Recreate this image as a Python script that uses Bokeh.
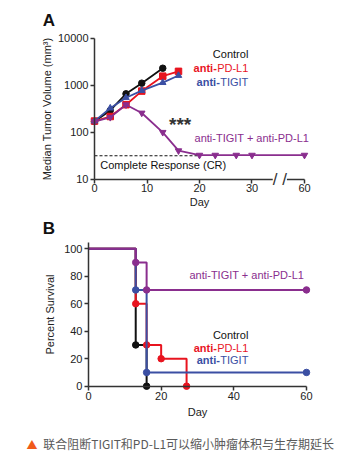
from bokeh.plotting import figure
from bokeh.layouts import column
from bokeh.models import FixedTicker, NumeralTickFormatter, Label
from bokeh.core.properties import value
from bokeh.embed import file_html
from bokeh.resources import INLINE

# ---------------- Panel A data ----------------
days_ctrl = [0, 3, 6, 9, 13]
vol_ctrl = [172, 295, 665, 1120, 2330]
days_pdl1 = [0, 3, 6, 9, 13, 16]
vol_pdl1 = [175, 219, 390, 760, 1580, 2000]
days_tigit = [0, 3, 6, 9, 13, 16]
vol_tigit = [175, 330, 550, 780, 1150, 1630]
days_combo = [0, 3, 6, 9, 13, 16, 20, 23, 27, 30, 60]
vol_combo = [170, 210, 390, 260, 101, 41, 33, 33, 33, 33, 33]
cr_level = 32
cr_days = [0, 20]
a_xticks = [0, 10, 20, 30, 60]
a_yticks = [10, 100, 1000, 10000]

# ---------------- Panel B data ----------------
km_ctrl_t = [0, 13, 16]
km_ctrl_s = [100, 30, 0]
km_pdl1_t = [0, 13, 16, 20, 27]
km_pdl1_s = [100, 60, 30, 20, 0]
km_tigit_t = [0, 13, 16, 60]
km_tigit_s = [100, 70, 10, 10]
km_combo_t = [0, 13, 16, 60]
km_combo_s = [100, 90, 70, 70]
b_xticks = [0, 20, 40, 60]
b_yticks = [0, 20, 40, 60, 80, 100]

BLACK = "#111111"
RED = "#e8141f"
BLUE = "#3b4fa3"
PURPLE = "#8a2e8e"
AXIS = "#333333"
FONT = "Liberation Sans"

BREAK_AT = 30      # broken axis: days after 30 are drawn compressed
BREAK_POS = 40     # position where day 60 is drawn


def brk(d):
    return d if d <= BREAK_AT else BREAK_POS


def style_axes(p):
    for ax in (p.xaxis[0], p.yaxis[0]):
        ax.axis_line_color = AXIS
        ax.axis_line_width = 1.5
        ax.major_tick_line_color = AXIS
        ax.major_tick_line_width = 1.5
        ax.major_tick_out = 4
        ax.major_tick_in = 0
        ax.minor_tick_line_color = None
        ax.major_label_text_font = FONT
        ax.major_label_text_font_size = "11px"
        ax.major_label_text_color = "#222222"
        ax.axis_label_text_font = FONT
        ax.axis_label_text_font_size = "11px"
        ax.axis_label_text_font_style = "normal"
        ax.axis_label_text_color = "#222222"
        ax.major_label_standoff = 2
    p.xgrid.visible = False
    p.ygrid.visible = False
    p.outline_line_color = None


# ================= Panel A =================
# frame fills the whole figure; axes are pinned at day 0 / volume 10
pA = figure(width=358, height=211, x_range=(-17.905, 50.286),
            y_range=(10 ** 0.3191, 10 ** 4.8085),
            y_axis_type="log", output_backend="svg", toolbar_location=None,
            min_border=0)
style_axes(pA)
pA.yaxis.fixed_location = 0
pA.yaxis.bounds = (10, 10000)
pA.yaxis.ticker = FixedTicker(ticks=a_yticks, minor_ticks=[])
pA.yaxis.formatter = NumeralTickFormatter(format="0")
pA.yaxis.axis_label = "Median Tumor Volume (mm³)"
pA.yaxis.axis_label_standoff = 2
pA.xaxis.fixed_location = 10
pA.xaxis.ticker = FixedTicker(ticks=[brk(d) for d in a_xticks], minor_ticks=[])
pA.xaxis.major_label_overrides = {brk(d): str(d) for d in a_xticks}
pA.xaxis.bounds = (0, BREAK_POS)
pA.xaxis.axis_label = "Day"
pA.xaxis.axis_label_standoff = 0
pA.xaxis.major_label_standoff = 1

# CR dashed line
pA.line([brk(d) for d in cr_days], [cr_level] * len(cr_days), line_color=BLACK,
        line_width=1, line_dash="3 2")

series_A = [
    (days_ctrl, vol_ctrl, BLACK, "circle"),
    (days_pdl1, vol_pdl1, RED, "square"),
    (days_tigit, vol_tigit, BLUE, "triangle"),
    (days_combo, vol_combo, PURPLE, "inverted_triangle"),
]
for d, v, c, m in series_A:
    xs = [brk(x) for x in d]
    pA.line(xs, v, line_color=c, line_width=1.8)
    pA.scatter(xs, v, marker=m, size=6.5, fill_color=c, line_color=c)

txt = dict(text_font=value(FONT), text_font_size="11px", text_baseline="middle")
pA.text(x=[29.3], y=[4570], text=["Control"], text_color=BLACK, text_align="right", **txt)
pA.text(x=[29.3], y=[2300], text=["PD-L1"], text_color=RED, text_align="right", **txt)
pA.text(x=[29.3], y=[2300], text=["anti-"], text_color=RED, text_align="right",
        x_offset=-31.5, text_font_style="bold", **txt)
pA.text(x=[29.3], y=[1215], text=["TIGIT"], text_color=BLUE, text_align="right", **txt)
pA.text(x=[29.3], y=[1215], text=["anti-"], text_color=BLUE, text_align="right",
        x_offset=-28.5, text_font_style="bold", **txt)
pA.text(x=[19.05], y=[74.6], text=["anti-TIGIT + anti-PD-L1"], text_color=PURPLE,
        text_align="left", **txt)
pA.text(x=[1.1], y=[20.8], text=["Complete Response (CR)"], text_color=BLACK,
        text_align="left", **txt)
pA.text(x=[16.3], y=[150], text=["***"], text_color="#333333", text_align="center",
        text_baseline="middle", text_font=value(FONT), text_font_size="19px",
        text_font_style="bold")

pA.add_layout(Label(x=35.3, y=10, text="/ /", text_align="center", text_baseline="middle",
                    text_font=FONT, text_font_size="17px", text_color=AXIS,
                    background_fill_color="white"))
pA.add_layout(Label(x=-8.67, y=10 ** 4.383, text="A", text_align="center",
                    text_baseline="middle", text_font=FONT, text_font_size="17px",
                    text_font_style="bold", text_color="#111111"))

# ================= Panel B =================
pB = figure(width=358, height=246, x_range=(-24.22, 74.32), y_range=(-51.85, 127.05),
            output_backend="svg", toolbar_location=None, min_border=0)
style_axes(pB)
pB.yaxis.fixed_location = 0
pB.xaxis.fixed_location = 0
pB.xaxis.bounds = (0, 60)
pB.yaxis.bounds = (0, 104.8)
pB.xaxis.ticker = FixedTicker(ticks=b_xticks, minor_ticks=[])
pB.yaxis.ticker = FixedTicker(ticks=b_yticks, minor_ticks=[])
pB.xaxis.axis_label = "Day"
pB.yaxis.axis_label = "Percent Survival"
pB.xaxis.axis_label_standoff = 2
pB.yaxis.axis_label_standoff = 5

series_B = [
    (km_ctrl_t, km_ctrl_s, BLACK),
    (km_pdl1_t, km_pdl1_s, RED),
    (km_tigit_t, km_tigit_s, BLUE),
    (km_combo_t, km_combo_s, PURPLE),
]
for t, s, c in series_B:
    pB.step(t, s, mode="after", line_color=c, line_width=2)
    pB.scatter(t[1:], s[1:], marker="circle", size=6.5, fill_color=c, line_color=c)

pB.text(x=[27.8], y=[81.2], text=["anti-TIGIT + anti-PD-L1"], text_color=PURPLE,
        text_align="left", **txt)
pB.text(x=[44.0], y=[37.6], text=["Control"], text_color=BLACK, text_align="right", **txt)
pB.text(x=[44.0], y=[28.1], text=["PD-L1"], text_color=RED, text_align="right", **txt)
pB.text(x=[44.0], y=[28.1], text=["anti-"], text_color=RED, text_align="right",
        x_offset=-31.5, text_font_style="bold", **txt)
pB.text(x=[44.0], y=[18.7], text=["TIGIT"], text_color=BLUE, text_align="right", **txt)
pB.text(x=[44.0], y=[18.7], text=["anti-"], text_color=BLUE, text_align="right",
        x_offset=-28.5, text_font_style="bold", **txt)

pB.add_layout(Label(x=-10.87, y=114.7, text="B", text_align="center", text_baseline="middle",
                    text_font=FONT, text_font_size="17px", text_font_style="bold",
                    text_color="#111111"))
pB.add_layout(Label(x=-15.55, y=-41.7, text="▲", text_align="center", text_baseline="middle",
                    text_font="Noto Sans CJK SC", text_font_size="11px", text_color="#f05a1a"))
pB.add_layout(Label(x=-12.47, y=-41.7, text="联合阻断TIGIT和PD-L1可以缩小肿瘤体积与生存期延长",
                    text_align="left", text_baseline="middle",
                    text_font="Noto Sans CJK SC", text_font_size="12px", text_color="#5a5a5a"))

layout = column(pA, pB, spacing=0)
open("out.html", "w").write(file_html(layout, INLINE))
